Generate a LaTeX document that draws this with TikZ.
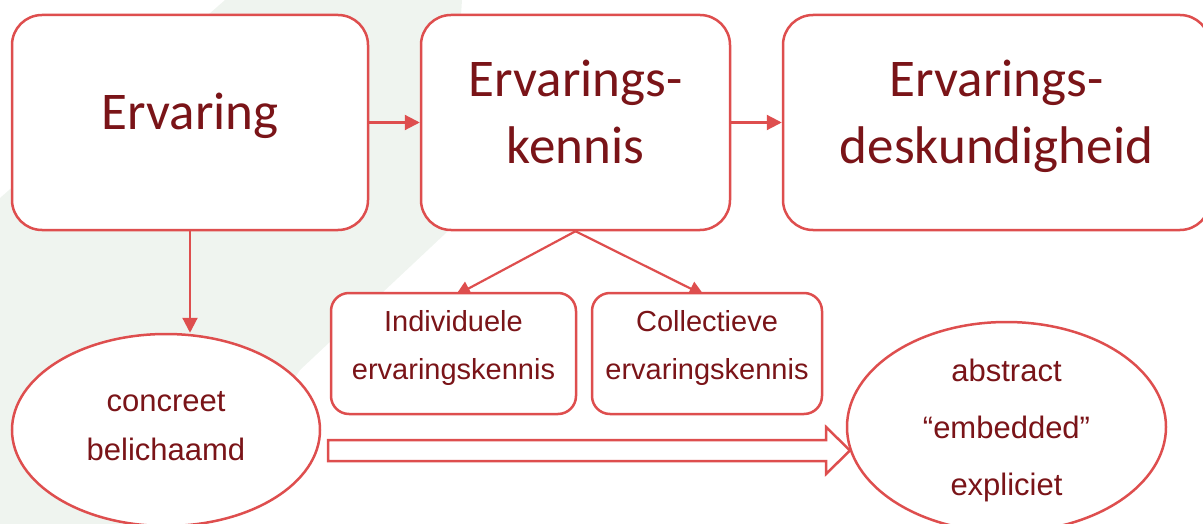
\documentclass[tikz,border=0pt]{standalone}
\usepackage{fontspec}
\setmainfont{Liberation Sans}
\newfontfamily\headfont{Carlito}
\usetikzlibrary{arrows.meta,positioning,shapes.geometric,backgrounds}
\definecolor{rimred}{HTML}{DE4E4E}
\definecolor{textred}{HTML}{7A1418}
\definecolor{bggreen}{HTML}{EFF4EF}
% invisible strut: height #1, depth #2
\newcommand\vstrut[2]{\rule[-#2]{0pt}{\dimexpr#1+#2\relax}}
\tikzset{
  bigbox/.style={draw=rimred, line width=2.5pt, fill=white, rounded corners=30pt,
    minimum height=215pt, inner sep=0pt, align=center, text=textred,
    font=\headfont\fontsize{53}{67}\selectfont},
  smallbox/.style={draw=rimred, line width=2.5pt, fill=white, rounded corners=18pt,
    minimum height=121pt, inner sep=0pt, align=center, text=textred,
    font=\fontsize{29}{40}\selectfont},
  oval/.style={ellipse, draw=rimred, line width=2.5pt, fill=white, inner sep=-40pt,
    align=center, text=textred},
  link/.style={draw=rimred, line width=2.2pt, -{Triangle[length=15pt,width=15pt]}},
}
\begin{document}
\begin{tikzpicture}[x=1pt,y=-1pt]
    \useasboundingbox (0,0) rectangle (1203,524);
    \clip (0,0) rectangle (1203,524);
    %% Top row
    \node[bigbox, minimum width=356pt] (ervaring) at (190,122.5)
        {\vstrut{40pt}{25pt}Ervaring};
    \node[bigbox, minimum width=309pt] (kennis) at (575.5,122.5)
        {\vstrut{40pt}{25pt}Ervarings-\\kennis\vstrut{40pt}{25pt}};
    \node[bigbox, minimum width=427pt] (deskundig) at (996.5,122.5)
        {\vstrut{40pt}{25pt}Ervarings-\\deskundigheid\vstrut{40pt}{25pt}};
    %% Kinds of knowledge
    \node[smallbox, minimum width=245pt] (individueel) at (453.5,353.5)
        {\vstrut{25pt}{22pt}Individuele\\ervaringskennis\vstrut{25pt}{22pt}};
    \node[smallbox, minimum width=230pt] (collectief) at (707,353.5)
        {\vstrut{25pt}{22pt}Collectieve\\ervaringskennis\vstrut{25pt}{22pt}};
    %% Ovals
    \node[oval, minimum width=308pt, minimum height=192pt,
        font=\fontsize{31}{42}\selectfont] (concreet) at (166,430)
        {\vstrut{30pt}{18pt}concreet\\belichaamd\vstrut{30pt}{18pt}};
    \node[oval, minimum width=319pt, minimum height=210pt,
        font=\fontsize{31}{57}\selectfont] (abstract) at (1006.5,427)
        {\vstrut{37pt}{14pt}abstract\\“embedded”\\expliciet\vstrut{37pt}{14pt}};
    %% Connectors
    \draw[link] (ervaring) -- (kennis);
    \draw[link] (kennis) -- (deskundig);
    \draw[link] (ervaring.south) -- (ervaring.south |- concreet.north);
    \begin{scope}[on background layer]
        \fill[bggreen] (225,0) -- (462,0) -- (447,232) -- (300,370) -- (200,524)
            -- (0,524) -- (0,198) -- cycle;
        \draw[link, shorten >=-8pt] (kennis.south) -- ([xshift=9pt]individueel.north);
        \draw[link, shorten >=-8pt] (kennis.south) -- ([xshift=-10pt]collectief.north);
    \end{scope}
    %% Hollow arrow
    \draw[rimred, line width=2.5pt, fill=white] (328,440) -- (826,440) -- (826,427)
        -- (850,450.5) -- (826,474) -- (826,461) -- (328,461) -- cycle;
\end{tikzpicture}
\end{document}
